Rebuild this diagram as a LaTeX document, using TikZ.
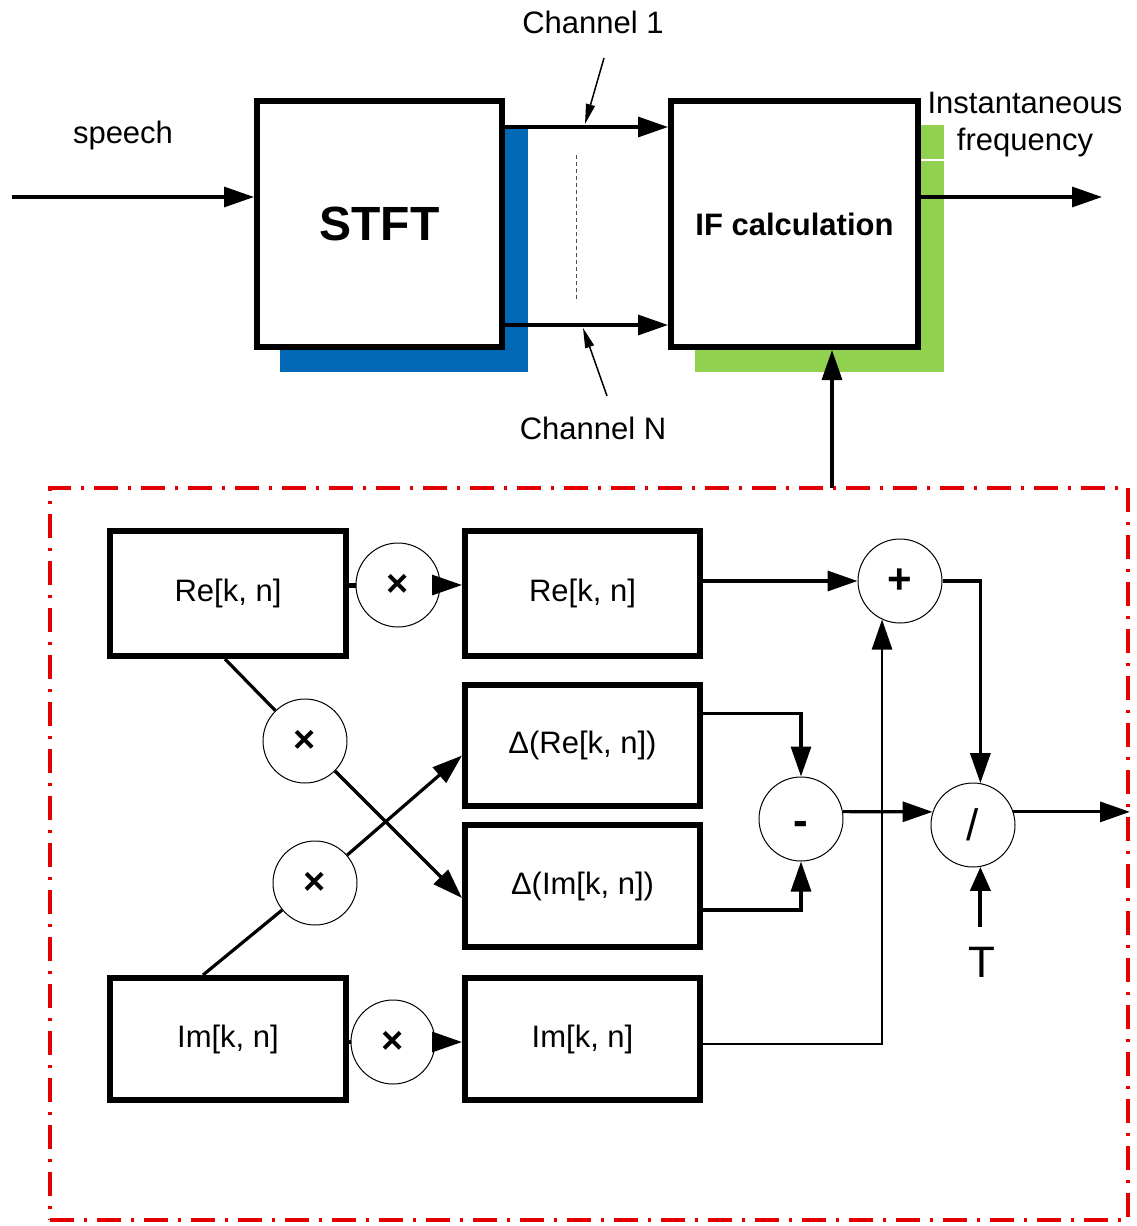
\documentclass[tikz,border=0pt]{standalone}
\usepackage{fontspec}
\setmainfont{Liberation Sans}
\usetikzlibrary{arrows.meta,calc}
\definecolor{shblue}{RGB}{0,104,180}
\definecolor{shgreen}{RGB}{146,208,80}
\definecolor{frred}{RGB}{228,0,0}
\begin{document}
\begin{tikzpicture}[x=1pt,y=-1pt,
  bigbox/.style={draw, line width=6pt, fill=white, inner sep=0pt},
  blk/.style={draw, line width=6pt, fill=white, inner sep=0pt, font=\fontsize{31}{36}\selectfont},
  op/.style={draw, circle, line width=1pt, fill=white, minimum size=84pt, inner sep=0pt, font=\bfseries\fontsize{38}{40}\selectfont},
  lbl/.style={font=\fontsize{31}{36}\selectfont, inner sep=0pt},
  arr/.style={line width=3.2pt, -{Triangle[length=30pt,width=20pt]}},
  wire/.style={line width=3.2pt},
  ptr/.style={line width=1.5pt, -{Triangle[length=20pt,width=9pt]}},
]
\useasboundingbox (0,0) rectangle (1136,1226);
% top part
\fill[shblue] (280,125) rectangle (528,372);
\fill[shgreen] (695,125) rectangle (944,372);
\draw[white, line width=1.5pt] (921,160) -- (946,160);
\node[bigbox, minimum width=245pt, minimum height=246pt, font=\bfseries\fontsize{48}{56}\selectfont] (stft) at (379.5,224) {STFT};
\node[bigbox, minimum width=247pt, minimum height=246pt, font=\bfseries\fontsize{31}{36}\selectfont] (ifc) at (794.5,224) {IF calculation};
\coordinate (sp) at (12,197);
\draw[arr] (sp) -- (sp -| stft.west);
\node[lbl] (speech) at (123,135) {speech};
\draw[arr] ([yshift=97pt]stft.east) -- ([yshift=97pt]ifc.west);
\draw[arr] ([yshift=-101pt]stft.east) -- ([yshift=-101pt]ifc.west);
\draw[line width=0.8pt, dash pattern=on 4pt off 3pt, black!70] (576,155) -- (576,302);
\node[lbl] (ch1) at (593,22) {Channel 1};
\node[lbl] (chN) at (593,428) {Channel N};
\coordinate (p1a) at (604,58);
\coordinate (p1b) at (585,124);
\coordinate (pNa) at (607,396);
\coordinate (pNb) at (583,328);
\draw[ptr] (p1a) -- (p1b);
\draw[ptr] (pNa) -- (pNb);
\coordinate (out) at (1102,197);
\draw[arr] (ifc.east |- out) -- (out);
\node[lbl] (inst) at (1025,103) {Instantaneous};
\node[lbl] (freq) at (1025,142) {frequency};
% frame
\node[draw=frred, line width=4pt, dash pattern=on 24pt off 10pt on 3pt off 10pt, minimum width=1078pt, minimum height=732pt, inner sep=0pt] (frame) at (589,854) {};
\coordinate (up) at (832,488);
\draw[arr] (up) -- (up |- ifc.south);
% inner blocks
\node[blk, minimum width=236pt, minimum height=125pt] (re1) at (228,593.5) {Re[k, n]};
\node[blk, minimum width=235pt, minimum height=125pt] (re2) at (582.5,593.5) {Re[k, n]};
\node[blk, minimum width=235pt, minimum height=121pt] (dre) at (582.5,745.5) {Δ(Re[k, n])};
\node[blk, minimum width=235pt, minimum height=122pt] (dim) at (582.5,886) {Δ(Im[k, n])};
\node[blk, minimum width=236pt, minimum height=122pt] (im1) at (228,1039) {Im[k, n]};
\node[blk, minimum width=235pt, minimum height=122pt] (im2) at (582.5,1039) {Im[k, n]};
% operators
\node[op] (m1) at (398,585) {×};
\node[op] (m2) at (305,741) {×};
\node[op] (m3) at (315,883) {×};
\node[op] (m4) at (393,1042) {×};
\node[op, font=\bfseries\fontsize{42}{46}\selectfont] (plus) at (900,581) {+};
\node[op, font=\bfseries\fontsize{44}{46}\selectfont, text height=0pt, text depth=0pt] (minus) at (801,819) {\raisebox{-16pt}{-}};
\node[op, font=\fontsize{44}{46}\selectfont] (div) at (973,825) {/};
\node[font=\fontsize{44}{48}\selectfont, inner sep=0pt] (T) at (982,962) {T};
% connectors
\draw[line width=5pt] (re1.east |- m1) -- (m1.west);
\draw[arr] (m1.east) -- (re2.west |- m1);
\draw[wire] ([xshift=-3pt]re1.south) -- (m2);
\draw[arr] (m2) -- ([yshift=-12pt]dim.west);
\draw[wire] ([xshift=-25pt]im1.north) -- (m3);
\draw[arr] (m3) -- ([yshift=-10pt]dre.west);
\draw[wire] (im1.east |- m4) -- (m4.west);
\draw[arr] (m4.east) -- (im2.west |- m4);
\draw[arr] (re2.east |- plus) -- (plus);
\draw[arr] ([yshift=32pt]dre.east) -| (minus);
\draw[arr] ([yshift=-24pt]dim.east) -| (minus);
\draw[arr, line width=2.6pt] ([yshift=-5pt]im2.east) -| (plus.-115);
\draw[arr] (plus.east) -| (div.80);
\draw[arr] (minus.10) -- (div.162);
\draw[arr] (div.18) -- (frame.east |- div.18);
\draw[line width=4pt, -{Triangle[length=24pt,width=20pt]}] ([yshift=20pt]T.north -| div.-80) -- (div.-80);
\end{tikzpicture}
\end{document}
